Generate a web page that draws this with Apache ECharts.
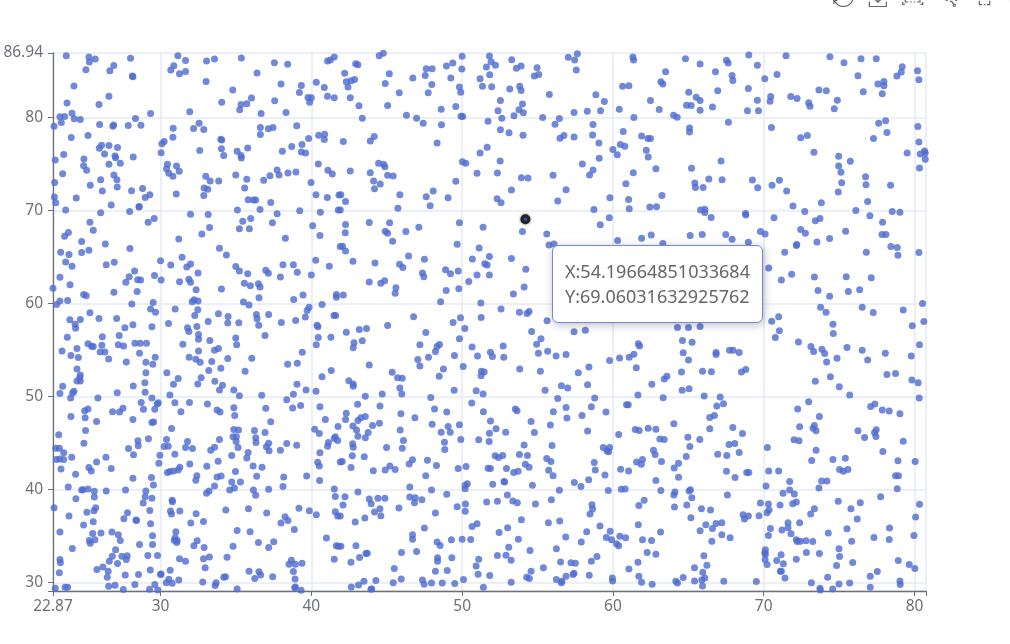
<!DOCTYPE html>
<html>
<head>
<meta charset="utf-8">
<script src="https://cdn.jsdelivr.net/npm/echarts@6/dist/echarts.min.js"></script>
<style>html,body{margin:0;padding:0;background:#fff;overflow:hidden;width:1010px;height:644px}#c{position:absolute;left:0;top:-16px;width:1200px;height:660px}</style>
</head>
<body>
<div id="c"></div>
<script>
const pointHighlighted = [[54.19664851033684, 69.06031632925762]];
const pointsTopLeft = [[23.75,86.65],[25.25,86.5],[25.28,85.97],[25.67,86.3],[25.05,85.14],[26.64,85.04],[26.9,85.6],[28.01,86.37],[28.13,84.46],[28.17,84.38],[24.26,83.38],[26.58,82.3],[23.8,81.55],[25.92,81.4],[24.13,80.47],[23.33,80.07],[23.64,80.1],[23.42,79.46],[24.28,79.86],[24.68,79.78],[22.94,79.06],[25.96,79.24],[26.89,79.2],[26.84,79.06],[27.86,79.14],[28.34,79.9],[28.7,79.17],[29.34,80.43],[25.19,78.06],[24.08,77.84],[26.09,77.01],[25.94,76.69],[26.58,76.98],[27.15,76.76],[26.29,76.08],[26.98,75.86],[27.02,75.68],[27.33,75.07],[26.58,74.96],[28.19,75.76],[24.92,75.54],[23.58,76.01],[23.02,75.43],[24.9,74.82],[25.1,74.32],[23.51,73.96],[26.91,73.81],[26.03,73.31],[27.11,73.31],[22.98,73.02],[25.34,72.7],[27.13,72.52],[26.14,72.09],[28.08,72.12],[28.81,72.37],[29.29,71.69],[28.98,71.4],[22.96,71.44],[23.05,70.83],[24.41,71.33],[26.73,70.58],[28.59,70.43],[28.57,70.36],[23.71,70.04],[26.03,69.75],[27.95,69.89],[31.15,86.65],[31.66,86.12],[30.88,85.58],[30.68,85.11],[31.26,84.71],[31.66,84.96],[33.05,86.08],[33.58,86.29],[35.36,86.4],[37.55,85.9],[38.43,85.72],[36.4,84.78],[33.02,83.88],[37.99,83.6],[34.79,82.95],[39.34,83.45],[39.21,82.7],[34.06,81.65],[36.03,82.09],[35.34,81.4],[35.72,81.47],[35.25,80.83],[37.57,81.8],[38.32,80.54],[36.67,80.43],[31.94,80.61],[39.78,82.16],[40,82.12],[39.89,81.65],[32.56,79.39],[32.19,78.81],[32.87,78.71],[30.84,78.85],[30.82,77.88],[36.62,78.92],[36.62,78.17],[37.15,78.78],[37.46,78.92],[39.03,79.1],[34,77.66],[34.06,77.59],[30.24,77.41],[30.09,77.19],[34.04,76.65],[30.04,76.22],[32.6,76.44],[34.19,75.9],[35.08,76.37],[35.34,75.9],[35.36,75.65],[35.78,76.73],[38.08,76.37],[38.7,76.87],[39.38,77.09],[39.34,76.29],[39.62,76.19],[39.82,77.73],[40.49,78.09],[40.88,78.2],[40.86,77.63],[30.46,74.96],[30.4,74.5],[30.55,73.99],[30.82,73.67],[31.06,74.78],[31.24,74.21],[33,73.67],[33.29,73.17],[32.89,72.41],[33.13,72.27],[32.87,71.62],[33.86,73.17],[34.99,73.81],[35.72,73.35],[35.58,72.41],[31.04,71.76],[35.81,71.15],[36.16,71.12],[36.31,71.12],[37.31,70.86],[36.6,70.11],[35.1,70.04],[37.73,69.64],[39.23,69.96],[36.84,73.24],[37.26,73.74],[37.73,74.35],[37.86,73.81],[38.45,74.03],[38.98,74.14],[39.98,73.02],[40.31,71.69],[41.06,71.4],[40.6,69.82],[40.46,75],[41.1,74.32],[41.39,73.92],[41.83,71.65],[41.79,70.04],[40.33,83.78],[40.86,83.24],[41.52,82.12],[41.08,86.08],[41.26,86.19],[41.52,86.51],[31.99,69.6],[33.16,69.57]];
const pointsTopCenter = [[44.77,86.91],[44.5,86.65],[42.94,85.79],[43.09,85.68],[42.21,84.75],[45.17,84.71],[47.62,85.25],[48.01,85.25],[48.96,85.54],[49.38,85.86],[50,86.58],[49.98,85.22],[47.55,84.53],[46.73,84.24],[49.25,84.24],[42.32,83.85],[42.63,83.96],[42.87,84.1],[44.9,83.67],[47.99,83.56],[42.43,83.27],[49.82,83.27],[49.91,82.73],[45.83,82.66],[47.75,82.66],[41.07,82.3],[42.58,82.12],[43.16,81.26],[45.06,81.29],[48.61,80.9],[49.58,81.19],[46.31,80.25],[46.98,79.93],[43.38,79.93],[49.93,80.14],[50.04,80.11],[47.42,79.39],[48.63,79.21],[42.12,77.41],[43.91,77.48],[44.17,77.95],[48.34,77.27],[44.46,75.07],[44.79,74.96],[44.88,74.71],[42.58,74.24],[43.91,74.06],[45.06,73.78],[45.43,73.71],[44.13,73.17],[44.57,72.84],[44.19,72.34],[49.58,73.13],[48.08,72.09],[45.87,71.69],[47.62,71.47],[49.07,71.37],[41.96,71.69],[42.27,70.97],[45.74,70.25],[47.88,70.5],[41.92,70.04],[51.81,86.62],[51.92,86.01],[51.61,85.43],[52.21,85.61],[53.29,86.22],[53.6,85.29],[53.91,85.54],[51.83,84.6],[51.19,84.17],[51.35,83.35],[51.96,83.31],[54.97,85.36],[54.79,84.46],[55.08,84.64],[53.16,83.06],[53.82,83.35],[53.91,82.91],[55.78,82.48],[52.54,81.83],[52.38,80.72],[54,81.44],[53.77,80.83],[54.06,80.5],[53.44,80.18],[52.63,79.93],[51.72,79.6],[55.34,80],[56.45,79.89],[56.16,79.28],[57.42,80.54],[58.3,80.68],[59.18,80.72],[60.42,80.9],[61.39,80],[58.87,82.45],[59.43,81.73],[57.04,86.47],[57.64,86.87],[57.46,86.19],[57.57,85.11],[61.32,86.51],[61.37,86.19],[63.49,84.93],[60.64,83.35],[61.06,83.42],[63.18,83.85],[63.31,83.6],[62.49,81.83],[63.07,80.86],[64.02,80.25],[64.26,80.04],[52.54,78.67],[53.11,78.35],[54.04,78.09],[58.68,79.24],[58.65,78.13],[56.49,77.77],[56.75,78.06],[57.42,77.91],[59.07,77.27],[60.68,78.49],[61.9,78.02],[62.32,77.73],[62.49,77.73],[60.49,77.09],[60.79,76.91],[60,76.55],[60.29,76],[62.21,76.47],[62.34,75.76],[59.09,75.61],[51.66,76.8],[51.19,76.19],[50.02,75.25],[50.24,75.07],[52.52,75.32],[57.97,75],[58.68,74.35],[58.45,73.81],[61.35,74.06],[62.85,74.5],[50.99,73.99],[52.34,74.03],[53.93,73.53],[54.37,73.49],[56.03,73.78],[60.86,72.88],[53.27,72.19],[56.89,72.23],[52.32,71.26],[52.58,70.83],[56.34,71.01],[59.8,71.37],[61.04,71.19],[63.25,71.62],[61.08,70.18],[62.45,70.36],[62.89,70.4],[58.74,70.11]];
const pointsTopRight = [[64.81,86.33],[65.78,85.76],[67.53,86.15],[67.64,85.86],[69.01,86.73],[69.58,85.61],[66.8,84.93],[67.9,84.53],[67.95,83.99],[70.07,84.17],[70.88,84.64],[71.48,86.65],[74.39,86.55],[75.32,85.9],[76.45,86.33],[77.46,86.33],[79.18,85.47],[79.12,84.89],[78.83,84.46],[80.2,85.04],[80.29,84.06],[76.25,84.5],[77.97,83.88],[77.57,83.6],[77.97,83.42],[77.86,82.55],[76.6,82.77],[73.66,82.95],[74.15,82.88],[68.98,83.13],[66.95,82.88],[65.03,82.73],[65.52,82.19],[65.78,81.83],[64.88,81.33],[65.19,81.29],[66.6,81.12],[65.78,80.79],[68.92,80.72],[69.65,80.72],[69.58,81.87],[70.46,82.27],[70.42,81.76],[71.79,82.27],[72.21,82.05],[72.98,81.58],[73.07,81.22],[74.88,81.87],[74.68,80.94],[65.08,78.88],[65.08,78.45],[67.66,79.5],[70.51,78.92],[72.45,77.81],[72.89,78.06],[73.33,76.26],[74.97,75.83],[74.97,74.78],[75.12,74.1],[75.74,75.29],[77.62,79.39],[78.08,79.64],[80.22,79.03],[78.17,78.38],[77.28,77.73],[80.29,77.37],[80.66,76.4],[80.38,76.08],[80.71,76.19],[79.51,76.19],[80.71,75.5],[80.33,74.57],[67.17,75.32],[65.21,74.53],[66.36,73.38],[67.24,73.31],[65.43,72.95],[65.47,72.48],[65.98,72.48],[69.25,73.27],[69.6,72.45],[70.55,72.7],[71.04,73.24],[71.52,72.09],[75.17,72.99],[74.94,71.98],[76.75,73.63],[76.78,72.77],[78.41,72.7],[76.89,70.97],[73.82,70.83],[71.94,70.47],[72.72,69.89],[76.11,70],[78.52,69.89],[79.03,69.82],[77.04,69.42],[65.81,70.04],[66.09,70.14],[66.09,69.78],[68.79,69.68],[68.81,69.5]];
const pointsMiddleLeft = [[25.32,68.74],[23.89,67.63],[23.64,67.23],[25.54,67.88],[24.77,66.65],[26.34,66.4],[27.97,65.9],[23.38,65.5],[23.93,65.25],[24.77,65.47],[25.25,65.72],[23.71,64.46],[24.13,63.99],[26.4,64.17],[26.93,64.42],[28.28,63.49],[27.92,62.88],[27.7,62.27],[28.48,62.55],[28.68,62.52],[29.6,62.99],[23.33,62.81],[24,62.01],[22.87,61.62],[24.9,60.97],[25.07,60.83],[26.91,61.19],[28.45,61.29],[23.33,60.25],[23.84,60.32],[23.11,59.89],[28.1,59.93],[29.51,60.11],[29.34,59.39],[29.67,59.06],[25.32,58.99],[25.92,58.38],[27.09,58.38],[23.99,58.24],[24.68,58.27],[24.34,57.77],[24.37,57.34],[28.17,57.7],[27.64,57.37],[29.43,57.48],[23.82,56.37],[26.14,56.4],[27.26,56.55],[25.19,55.65],[25.43,55.4],[25.54,55.36],[26.11,55.5],[27.2,55.54],[27.55,55.43],[28.3,55.72],[28.65,55.72],[29.07,55.72],[23.47,54.89],[24.46,55.14],[26,54.78],[26.31,54.78],[28.61,54.64],[24.06,54.39],[24.55,54.17],[26.56,54.03],[29.65,54.21],[27.73,53.71],[29.03,53.67],[29.49,53.45],[24.46,52.95],[24.68,52.3],[24.64,52.01],[24.46,51.65],[24.68,51.65],[29.03,52.55],[23.51,51.08],[28.96,51.47],[28.19,51.12],[24.26,50.54],[24.17,50.36],[23.33,50.32],[27.13,50.4],[28.98,50.43],[24.04,49.82],[25.85,49.82],[29.43,49.82],[29.85,49.32],[29.78,49.17],[28.72,49.35],[29.62,48.6],[28.87,48.6],[27.51,48.71],[26.82,48.35],[27.28,48.31],[25.19,48.63],[24.97,48.45],[24.06,47.84],[25,47.7],[25.76,47.3],[28.17,47.52],[29.43,47.19],[29.54,47.23],[25.03,46.33],[29.18,68.74],[29.58,69.14],[31.21,66.94],[32.74,67.48],[33.25,68.17],[35.23,68.02],[35.45,68.85],[35.98,69.14],[35.89,68.02],[37.42,68.67],[40.09,68.35],[40.57,67.3],[38.28,67.01],[33.91,65.94],[34.37,65.22],[31.43,64.96],[30,64.6],[30.68,64.14],[31.99,64.24],[31.74,63.92],[32.49,63.27],[30.04,62.52],[31.26,62.34],[31.88,62.59],[31.99,62.27],[32.36,61.47],[34.04,61.55],[34.99,63.96],[35.23,63.49],[35.78,63.2],[36.98,63.56],[37.15,63.24],[38.12,64.17],[38.81,64.17],[39.07,63.35],[40.29,64.64],[41.19,63.99],[37.95,62.84],[40,63.06],[41.92,66.12],[35.56,62.16],[35.96,61.91],[36.49,62.12],[36.6,61.76],[36.53,60.61],[39.45,60.9],[38.83,60.43],[32.23,60.4],[32.1,60.18],[32.49,60.25],[35.5,60.14],[35.87,59.82],[39.85,59.6],[40.71,59.89],[41.66,60.97],[41.66,60.65],[30.97,59.39],[32.47,59.32],[39.72,59.24],[33.84,58.88],[32.27,58.71],[34.48,58.6],[36.36,58.81],[37.17,58.81],[36.4,58.35],[39.6,58.53],[41.5,58.71],[41.61,58.71],[30.53,57.84],[33.16,58.06],[34.46,57.88],[35.19,57.91],[36.51,57.66],[38.01,57.95],[38.96,58.17],[32.41,57.52],[31.79,57.37],[31.88,56.98],[40.38,57.66],[40.44,57.48],[32.52,56.65],[32.52,56.15],[34.99,56.29],[36.93,56.55],[40.46,56.33],[41.3,56.37],[33.27,56.01],[31.48,55.61],[35.05,55.54],[40.33,55.54],[33.84,55.14],[33.58,54.96],[32.52,54.89],[39.4,54.75],[31.9,54.21],[32.34,53.99],[32.63,53.67],[34.46,54.06],[36.05,54.1],[33.4,53.74],[38.43,53.45],[39.07,53.56],[34,53.02],[33.2,52.77],[35.61,52.7],[30.42,52.55],[41.32,52.77],[40.71,52.12],[31.17,51.91],[32.69,52.01],[33.6,51.62],[32.47,51.33],[30.86,51.29],[34.11,51.19],[39.05,51.29],[33.91,50.68],[34.86,50.68],[39.65,50.68],[40.31,50.54],[30.62,50.14],[35.23,50.07],[36.71,50.11],[38.81,50.22],[38.37,49.64],[30.95,49.32],[31.92,49.35],[33.11,49.17],[34.86,48.78],[33.75,48.53],[33.95,48.31],[31.35,48.35],[36.98,48.71],[38.76,48.74],[39.29,49.03],[40.57,48.88],[34.92,47.95],[40.93,47.52],[37.31,47.27],[30.73,46.55],[40.22,46.47],[41.77,46.76],[34.86,46.44],[35.17,46.37],[36.23,46.33]];
const pointsMiddleCenter = [[42.27,68.49],[43.84,68.71],[45.19,68.67],[42.25,67.59],[44.9,67.77],[45.06,67.55],[46.27,67.73],[47.13,68.2],[49.82,68.67],[51.39,68.2],[45.39,66.69],[49.67,66.37],[42.07,66.15],[42.27,65.65],[51.13,65.97],[51.81,65.04],[46.45,65.11],[47.5,64.75],[50.68,64.78],[53.27,64.82],[42.76,64.53],[44.22,64.35],[45.85,64.21],[46.07,63.85],[51.5,64.28],[51.66,64.14],[54.22,63.67],[48.9,63.63],[49.23,63.2],[49.74,63.49],[47.37,63.27],[47.46,62.88],[50.99,63.06],[51.81,63.06],[50.44,62.37],[44.86,62.45],[44.61,62.16],[43.84,62.3],[45.61,61.69],[45.56,61.08],[48.94,61.4],[49.78,61.58],[54.11,61.76],[53.4,61.01],[42.12,60.9],[48.57,60.18],[51.24,60.04],[52.58,59.39],[53.8,59.06],[54.3,58.92],[54.44,59.14],[46.78,58.56],[49.89,58.45],[51.26,58.49],[49.4,57.95],[55.63,58.13],[45.06,57.63],[50.18,57.3],[42.32,56.91],[43.18,57.19],[43.66,57.3],[47.59,56.87],[54.61,56.98],[57.42,56.94],[58.17,57.12],[49.82,56.19],[55.23,56.19],[43.38,55.97],[42.83,55.76],[42.78,55.22],[47.2,55.54],[48.5,55.58],[48.34,55.36],[48.23,54.82],[50.66,55.32],[52.72,55.43],[54.94,55.61],[51.88,54.75],[52.01,54.28],[51.02,54.35],[49.49,54.39],[47.77,54.21],[47.06,53.96],[52.76,54.21],[55.06,54.64],[55.67,54.86],[56.23,54.35],[56.89,54.5],[59.78,53.85],[60.44,54.14],[61.08,54.21],[61.39,54.53],[61.68,55.65],[61.77,55.43],[43.84,53.38],[47.2,53.27],[50.07,53.2],[48.76,52.95],[53.82,52.95],[45.36,52.59],[48.48,52.16],[51.28,52.7],[51.46,52.63],[51.26,52.23],[55.19,52.7],[58.41,53.17],[57.7,52.55],[61.55,53.09],[45.72,52.01],[46.03,51.94],[42.49,51.69],[42.78,51.33],[42.78,51.08],[45.87,50.9],[49.47,50.65],[46,50.25],[44.7,50.25],[43.58,50],[50.93,50.61],[51.39,50.25],[55.5,50.65],[56.58,51.15],[57,50.9],[58.32,51.26],[62.58,51.29],[63.4,51.87],[63.58,52.16],[47.92,49.89],[56.34,49.78],[58.79,49.82],[61.66,50.14],[63.33,49.86],[43.07,49.14],[44.55,48.96],[50.64,49.28],[48.17,48.63],[48.98,48.31],[51.41,48.35],[53.53,48.63],[53.64,48.45],[56.05,48.35],[56.89,48.81],[58.57,48.88],[59.54,48.31],[60.9,49.1],[61.02,49.1],[42.32,48.17],[45.94,48.13],[42.27,47.52],[43.09,47.41],[43.29,47.7],[43.58,47.84],[46.87,47.7],[51.88,47.34],[56.95,47.66],[57.95,47.95],[54.57,47.3],[64.04,47.05],[44.52,47.12],[44.06,46.87],[42.76,46.8],[48.01,47.01],[49.07,46.76],[49.82,46.94],[55.85,46.91],[52.25,46.51],[45.89,46.37],[61.48,46.44],[62.34,46.58],[62.85,46.47],[59.16,68.45],[59.76,69.21],[55.61,67.48],[54,67.73],[60.31,66.76],[61.9,67.01],[62.54,67.37],[55.76,66.29],[56.09,66.4],[63.31,66.44]];
const pointsMiddleRight = [[66.51,69.24],[70.68,69.21],[73.42,68.88],[73.73,69.14],[77.88,68.74],[72.45,67.95],[72.76,67.55],[69.78,67.73],[70.09,67.48],[75.43,67.77],[65.12,67.3],[65.92,67.41],[67.48,67.41],[67.9,66.91],[68.98,66.58],[77.84,67.41],[78.1,67.41],[73.53,66.62],[74.37,66.98],[72.19,66.33],[72.16,66.22],[78.43,66.12],[78.85,66.01],[71.39,65.5],[76.8,65.5],[78.9,65.18],[80.29,65.47],[70.33,63.81],[71.85,63.13],[73.36,62.84],[75.47,62.88],[77.13,62.77],[71.17,62.52],[73.6,61.4],[75.61,61.29],[76.36,61.47],[74.37,60.76],[80.53,60],[73.77,59.6],[76.53,59.6],[74.13,59.06],[77.26,59.03],[79.25,59.28],[70.99,58.56],[70.53,58.09],[74.59,57.77],[79.85,57.59],[80.62,58.06],[71.04,57.05],[74.61,56.76],[70.77,56.33],[64.28,57.41],[65.01,57.41],[65.78,57.52],[64.61,56.01],[65.25,55.83],[72.3,55.86],[73.13,55.36],[73.31,54.82],[73.86,55.07],[74.04,54.6],[75.52,55.25],[76.53,54.96],[78.06,54.64],[80.33,55.54],[79.78,54.35],[74.86,54.1],[76.89,53.92],[74.17,53.71],[64.66,54.68],[66.84,54.71],[66.84,54.5],[67.73,54.96],[67.97,54.96],[68.37,54.71],[65.01,53.92],[64.55,52.63],[65.94,52.7],[66.53,52.66],[68.52,52.63],[68.81,52.88],[78.17,52.34],[78.74,52.45],[79.82,51.76],[80.24,51.47],[74.42,52.12],[73.42,51.62],[75.01,51.04],[64.59,50.65],[65.05,50.83],[75.7,50.14],[66.05,50.04],[67.11,49.93],[80.31,49.82],[67.33,49.21],[66.89,48.96],[72.98,49.42],[72.25,48.63],[77.09,48.92],[77.37,49.17],[77.86,48.53],[78.32,48.42],[79.03,48.13],[66.42,47.73],[66.73,47.95],[73.69,47.84],[66.42,46.51],[67.95,46.65],[72.38,46.73],[73.36,46.87],[73.27,46.58],[76.25,46.3],[77.46,46.4],[73.47,46.3]];
const pointsBottomLeft = [[23.25,45.86],[24.92,44.96],[23.05,44.42],[23.29,44.42],[23.58,43.92],[24.11,43.45],[23.09,43.2],[23.31,43.27],[23.58,43.2],[25.76,42.95],[26.38,43.45],[23.4,42.19],[25.25,42.34],[25.41,41.98],[26.73,42.23],[24.37,41.62],[23.88,40.25],[24.77,39.93],[24.86,39.96],[25.19,40.04],[25.61,39.78],[25.61,39.17],[26.4,39.82],[24.39,38.99],[25.7,38.02],[25.59,37.7],[25.12,37.52],[22.94,38.02],[23.93,37.12],[25.54,36.51],[24.9,36.15],[23.33,35.4],[25.5,35.25],[26.05,35.29],[26.78,35.4],[27.2,35.11],[27.33,34.5],[25.28,34.5],[25.34,34.21],[25.65,34.57],[24.15,33.63],[27.02,33.49],[26.8,32.81],[26.6,32.27],[27.44,32.81],[27.79,32.85],[27.73,32.45],[27.15,32.01],[23.33,32.45],[23.36,32.09],[26.18,31.65],[25.78,31.37],[26.53,31.19],[23.29,31.01],[27.66,30.79],[28.54,30.83],[26.47,30.54],[26.56,29.57],[26.98,29.68],[28.3,29.75],[23.02,29.35],[23.67,29.46],[23.84,29.46],[27.53,29.21],[27.88,44.39],[28.5,45.22],[28.52,44.68],[29.2,45.43],[28.21,43.71],[30.4,45.36],[30.24,44.6],[30.51,44.64],[29.96,43.67],[30.95,43.78],[31.79,45.14],[31.66,44.5],[32.12,44.39],[33.33,44.21],[33.58,44.53],[33.91,45.36],[34.72,43.63],[34.81,45.65],[35.03,45.65],[35.01,45.14],[35.14,44.5],[35.81,43.96],[35.72,43.38],[36.31,45.54],[36.33,45.04],[36.93,46.12],[37.17,44.96],[37.02,44.57],[37.2,44.14],[38.37,44.93],[37.95,44.21],[39.03,44.75],[29.89,42.81],[31.94,42.73],[31.28,42.37],[31.17,42.09],[30.86,41.98],[30.62,41.91],[30.46,41.8],[33.07,42.48],[33.82,43.02],[36.14,42.52],[36.73,42.37],[34.97,41.91],[36.38,41.4],[32.41,41.47],[32.34,40.97],[33.75,41.33],[34.02,41.44],[29.4,41.26],[28.17,41.19],[39.69,41.44],[38.17,41.33],[34.72,40.79],[35.3,40.79],[29.53,40.47],[33.58,40.36],[34.9,40.14],[34.59,39.93],[36.16,39.93],[37.17,40],[38.12,40.29],[27.68,39.93],[29.03,39.82],[33.22,39.82],[33.05,39.57],[36.31,39.35],[28.98,39.21],[29.43,39.03],[28.85,38.53],[30.77,38.81],[30.79,38.67],[29.29,37.73],[30.66,37.66],[30.73,37.34],[31.28,37.66],[34.33,37.77],[35.83,37.91],[37.04,37.45],[27.81,37.48],[32.36,37.37],[38.26,37.05],[27.57,36.83],[28.37,36.69],[28.41,36.65],[32.85,36.55],[32.01,36.37],[29.34,36.29],[38.45,36.65],[37.99,36.37],[39.18,37.95],[39.87,37.7],[40.33,37.27],[38.87,35.68],[35.08,35.58],[35.94,35.43],[31.02,35.43],[29.47,35],[30.97,34.78],[30.91,34.53],[31.1,34.5],[31.08,34.28],[32.43,34.46],[29.47,34.06],[28.61,34.06],[36.49,34.28],[37.51,34.35],[32.21,33.92],[32.89,33.74],[34.81,33.88],[37.17,33.74],[29.16,32.88],[29.8,32.88],[33.24,32.73],[32.85,32.52],[34.41,32.7],[31.26,32.52],[31.66,32.27],[38.68,32.37],[38.52,31.94],[38.94,31.94],[39.38,32.05],[32.96,31.55],[30.64,31.29],[29.32,31.33],[38.81,31.15],[35.87,31.19],[36.53,31.12],[36.64,30.79],[37.44,30.58],[30.04,30.9],[30,30.83],[34.19,30.54],[34.31,30.58],[36.25,30.4],[38.92,30.36],[31.21,30.25],[30.55,30.32],[30.38,29.96],[30.77,29.89],[32.8,30.04],[33.69,29.96],[33.62,29.64],[29.62,29.75],[29.27,29.24],[29.82,29.17],[35.08,29.28],[38.9,29.42],[38.94,29.5],[39.32,29.14],[40.53,46.01],[41.52,45.47],[41.59,45.65],[41.75,45.25],[41.13,45.04],[41.08,44.64],[40.57,43.92],[40.42,42.91],[40.53,42.52],[40.55,40.94],[41.52,40.04],[41.59,39.24],[41.59,37.59],[41.75,37.12],[41,34.75],[41.66,33.92],[41.52,32.48],[41.79,33.88],[41.92,42.95]];
const pointsBottomCenter = [[43,46.37],[43.77,46.12],[43.09,45.72],[43.58,45.54],[48.61,46.15],[49.21,46.15],[46.11,45.25],[49.91,45.36],[51.1,45.32],[48.83,45.07],[51.79,45.14],[51.81,46.04],[52.89,46.15],[54.79,46.12],[58.32,46.26],[60.38,45.9],[42.74,44.89],[42.78,44.53],[44.99,44.5],[46.03,44.42],[48.85,44.28],[54.11,44.78],[55.96,44.71],[42.72,43.6],[43.51,43.49],[52.19,43.6],[52.41,43.42],[52.69,43.63],[53.8,43.74],[54.33,43.63],[55.61,43.31],[55.89,42.99],[59.36,44.5],[59.78,44.5],[59.6,44.14],[59.71,44.03],[42.05,42.99],[46.71,43.17],[46.49,42.73],[47.7,43.13],[48.3,42.55],[45.21,42.52],[54.19,42.7],[54.44,42.37],[42.63,42.34],[44.11,42.01],[44.9,42.09],[45.56,42.12],[49.74,42.23],[50.26,42.45],[51.72,42.27],[51.88,42.23],[52.94,42.23],[53.42,41.8],[53.71,41.94],[55.74,42.05],[56.03,41.47],[58.76,42.88],[58.83,42.09],[59.47,41.55],[60.51,42.16],[61.04,41.98],[61.57,42.95],[61.88,42.7],[61.96,43.2],[47.59,41.47],[58.39,41.04],[57.44,40.72],[57.88,40.29],[62.85,40.94],[63.22,42.99],[62.69,44.21],[62.8,43.74],[63.11,45.4],[63.4,45.36],[64.06,42.3],[64.35,42.81],[64.35,41.3],[61.74,46.33],[50.35,40.61],[50.2,40.43],[50.2,40.07],[46.53,40.25],[52.03,40.54],[52.78,40.83],[52.82,40.79],[54.66,40.43],[47.97,39.93],[56.45,39.89],[59.69,39.86],[60.55,40],[60.81,40.04],[63.18,39.86],[64.11,39.71],[64.04,39.39],[43.09,39.71],[42.23,39.21],[48.98,39.46],[53,39.39],[43.84,38.96],[44.42,39.03],[44.88,39.03],[46.53,39.17],[46.89,39.1],[46.84,38.56],[47.33,38.88],[43.97,38.45],[42.1,38.31],[50.22,38.42],[51.63,38.63],[52.34,38.71],[53.36,38.74],[53.66,38.56],[54.86,38.42],[55.92,38.88],[62.07,38.81],[61.72,38.27],[64.08,38.09],[45.81,37.99],[49.67,38.13],[50.2,37.63],[44.55,37.91],[44.19,37.55],[44.61,37.16],[48.23,37.45],[58.61,38.35],[58.65,37.88],[58.48,37.34],[43.55,36.91],[42.91,36.47],[41.92,37.12],[53.93,36.73],[55.72,36.4],[56.47,36.58],[50.99,36.29],[50.66,36],[59.14,36.04],[61.68,36.19],[47.5,35.83],[53.02,35.86],[58.26,35.43],[59.82,35.5],[63.16,35.4],[52.45,35.36],[46.71,35.11],[46.71,34.64],[49.29,34.57],[50,34.64],[50.57,34.6],[53.73,34.64],[56.87,34.86],[59.56,34.82],[59.91,34.57],[60.46,34.96],[60.84,34.78],[61.96,34.57],[62.56,34.5],[48.34,34.32],[48.54,33.96],[57.9,34.32],[60.24,34.14],[60.38,33.92],[41.96,33.88],[42.96,33.92],[53.09,33.78],[56.25,33.6],[45.98,33.2],[46.98,33.31],[43.62,33.09],[43.71,33.13],[54.5,33.42],[62.27,33.2],[62.85,33.02],[43.2,32.66],[52.34,32.88],[52.91,32.91],[48.37,32.63],[48.37,32.27],[49.32,32.63],[51.1,32.48],[53.25,32.37],[58.94,32.77],[58.57,32.27],[56.53,32.19],[57.22,32.09],[57.51,32.05],[61.66,32.16],[42.63,32.16],[50.93,31.76],[55.39,31.55],[61.06,31.44],[45.5,31.47],[48.23,31.19],[49.01,31.26],[54.57,31.19],[51.06,30.86],[51.83,30.72],[54.28,30.54],[54.46,30.4],[57.42,30.97],[57.35,30.83],[56.89,30.65],[58.43,30.76],[61.72,30.65],[45.96,30.36],[44.28,30.18],[43.49,30.11],[47.37,30.25],[50.09,30.29],[56.25,30.29],[56.62,30.11],[59.96,30.47],[59.98,30.14],[45.43,29.96],[47.48,29.78],[47.97,29.93],[48.68,29.93],[49.51,29.86],[53.25,30],[56.58,29.96],[61.9,30],[43.13,29.71],[42.65,29.5],[62.6,29.78],[51.41,29.46],[44,29.28],[43.95,29.24],[64.17,30.11],[64.28,29.93]];
const pointsBottomRight = [[64.97,45.61],[65.76,45.36],[68.59,46.01],[67.7,44.82],[68.08,44.93],[65.1,44.6],[68.37,43.96],[66.95,43.78],[67.55,43.63],[64.86,43.52],[67.53,41.94],[68.87,41.8],[69.01,41.8],[68.1,41.26],[70.33,41.98],[70.99,41.98],[70.24,44.5],[72.01,45.32],[72.34,45.22],[73.47,44.21],[73.18,43.09],[74.59,43.2],[75.41,43.35],[75.03,42.12],[75.28,41.94],[75.58,42.12],[76.69,45.58],[77.35,46.12],[77.44,45.68],[79.25,45.18],[77.9,44.06],[78.9,43.06],[80.04,42.99],[78.74,41.47],[78.94,41.47],[71.72,40.83],[73.84,40.9],[74.19,40.9],[70.15,40.36],[73.66,40.14],[71.72,39.93],[71.28,39.57],[72.03,39.5],[78.85,40.07],[65.14,39.96],[65.05,39.82],[67.59,39.39],[65.23,39.1],[77.75,39.21],[74.94,38.71],[76.4,38.56],[69.78,38.53],[70.31,38.42],[71.08,38.31],[71.92,38.45],[72.16,38.63],[80.33,38.38],[64.9,38.31],[65.87,37.91],[66.47,37.77],[70.35,37.77],[70.22,37.48],[73.36,37.91],[73.11,37.34],[75.78,37.91],[68.63,37.27],[68.98,37.12],[68.72,36.8],[69.69,37.16],[65.17,36.94],[76.2,36.8],[80.07,37.01],[66.84,36.33],[67.22,36.4],[66.16,36.19],[66.6,35.79],[71.61,36.4],[72.38,36.4],[71.61,35.86],[70.44,35.79],[71.21,35.61],[71.81,35.22],[70.31,35.04],[65.78,35.54],[67.22,35.11],[67.77,34.78],[66.56,34.42],[74.28,35.29],[75.52,35.76],[78.34,35.83],[77.31,34.82],[78.32,34.6],[79.96,35.04],[75.83,34.42],[72.16,34.57],[72.23,34.39],[72.43,34.42],[72.8,34.46],[73.25,34.39],[70.11,33.49],[70.07,33.17],[70.11,33.02],[70.09,32.45],[70.22,31.91],[66.03,32.84],[66.23,31.83],[71.15,32.95],[70.86,32.34],[71.3,31.98],[72.83,33.2],[73.69,33.09],[74.99,33.6],[75.03,32.77],[72.16,32.48],[75.9,32.12],[74.83,31.8],[78.92,32.34],[79.65,31.91],[80.02,31.47],[65.41,31.55],[65.96,31.08],[66.09,30.47],[71.1,31.19],[71.17,31.19],[71.41,30.47],[77.53,31.15],[77.06,30.65],[74.24,30.54],[64.66,30.5],[65.41,30.14],[65.89,30.25],[67.35,30.11],[69.51,30.07],[73.16,29.96],[74.99,29.82],[75.7,29.93],[79.03,30.14],[79.05,29.75],[65.94,29.6],[73.73,29.35],[73.75,29.17],[74.57,29.28],[77.06,29.46]];

const xMin = 22.87, xMax = 80.76, yMin = 29.06, yMax = 86.94;
const allPoints = pointHighlighted.concat(pointsTopLeft, pointsTopCenter, pointsTopRight, pointsMiddleLeft, pointsMiddleCenter, pointsMiddleRight, pointsBottomLeft, pointsBottomCenter, pointsBottomRight);

const font = '"Noto Sans", sans-serif';
const chart = echarts.init(document.getElementById('c'), null, {renderer: 'canvas'});
const labelFmt = hidden => v => Math.abs(v - hidden) < 0.01 ? '' : String(Math.round(v * 100) / 100);
chart.setOption({
  animation: false,
  grid: {left: 53, top: 69, right: 274, bottom: 53, containLabel: false},
  tooltip: {
    trigger: 'item', alwaysShowContent: true, transitionDuration: 0, showDelay: 0,
    position: () => [552, 261],
    backgroundColor: '#fff', borderColor: '#7289da', borderWidth: 1.5, padding: [13, 12],
    textStyle: {color: '#666', fontSize: 18, fontFamily: font, lineHeight: 25},
    extraCssText: 'border-radius:6px;box-shadow:1px 2px 10px rgba(0,0,0,.25);',
    formatter: p => 'X:' + p.value[0] + '<br/>Y:' + p.value[1]
  },
  brush: {toolbox: ['rect', 'polygon', 'lineX', 'lineY'], xAxisIndex: 0},
  toolbox: {
    show: true, left: 816, top: -15, itemSize: 20, itemGap: 11,
    iconStyle: {borderColor: '#666', borderWidth: 1.2},
    feature: {
      restore: {}, saveAsImage: {}, brush: {type: ['rect', 'polygon', 'lineX', 'lineY']}
    }
  },
  xAxis: {
    type: 'value', min: xMin, max: xMax,
    axisLine: {show: true, lineStyle: {color: '#6E7079', width: 1.3}},
    axisTick: {show: true},
    splitLine: {show: true, lineStyle: {color: '#E6EAF6', width: 1.5}},
    axisLabel: {color: '#6E7079', fontSize: 15.5, fontFamily: font, margin: 8, formatter: labelFmt(xMax), showMinLabel: true}
  },
  yAxis: {
    type: 'value', min: yMin, max: yMax,
    axisLine: {show: true, lineStyle: {color: '#6E7079', width: 1.3}},
    axisTick: {show: true},
    splitLine: {show: true, lineStyle: {color: '#E6EAF6', width: 1.5}},
    axisLabel: {color: '#6E7079', fontSize: 15.5, fontFamily: font, margin: 10, formatter: labelFmt(yMin), showMaxLabel: true}
  },
  series: [{
    type: 'scatter', data: allPoints, symbolSize: 7,
    itemStyle: {color: '#4f6ccf', opacity: 0.8},
    emphasis: {scale: false, itemStyle: {color: '#3f5fd0', opacity: 1, borderColor: '#222', borderWidth: 3, shadowBlur: 3, shadowColor: 'rgba(0,0,0,0.5)'}}
  }]
});
chart.dispatchAction({type: 'highlight', seriesIndex: 0, dataIndex: 0});
chart.dispatchAction({type: 'showTip', seriesIndex: 0, dataIndex: 0});
</script>
</body>
</html>
